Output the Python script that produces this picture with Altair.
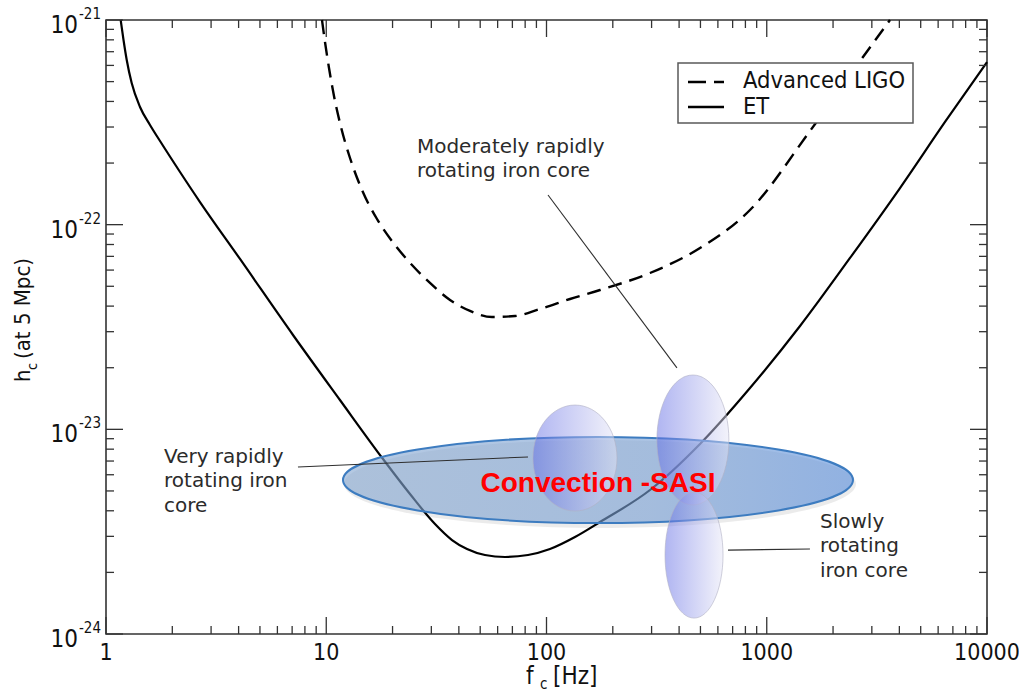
import altair as alt
import pandas as pd

# ---- detector sensitivity curves: characteristic strain at 5 Mpc vs frequency ----
et_freq = [1.166, 1.201, 1.242, 1.308, 1.427, 1.584, 1.759, 2.168, 2.672, 4.059, 7.064,
           11.54, 18.10, 24.00, 31.17, 37.24, 43.57, 52.57, 64.80, 82.41, 103.7, 134.7,
           175.0, 295.1, 497.7, 839.2, 1416.0, 2388.0, 4027.0, 6447.0, 10000.0]
et_hc = [1.0e-21, 7.986e-22, 6.375e-22, 4.922e-22, 3.758e-22, 3.069e-22, 2.563e-22,
         1.809e-22, 1.290e-22, 6.798e-23, 2.890e-23, 1.391e-23, 7.163e-24, 4.831e-24,
         3.447e-24, 2.879e-24, 2.602e-24, 2.432e-24, 2.378e-24, 2.432e-24, 2.602e-24,
         2.978e-24, 3.525e-24, 5.053e-24, 8.481e-24, 1.592e-23, 3.198e-23, 6.875e-23,
         1.510e-22, 3.175e-22, 6.232e-22]

ligo_freq = [9.566, 9.870, 10.292, 10.843, 11.666, 12.819, 14.532, 17.00, 20.516, 24.51,
             29.58, 36.47, 44.94, 56.56, 71.94, 93.43, 127.9, 175.0, 295.1, 497.7, 839.2,
             1572.0, 2735.0, 3627.0]
ligo_hc = [1.0e-21, 7.809e-22, 5.826e-22, 4.252e-22, 3.000e-22, 2.117e-22, 1.477e-22,
           1.066e-22, 7.956e-23, 6.353e-23, 5.188e-23, 4.285e-23, 3.787e-23, 3.538e-23,
           3.578e-23, 3.873e-23, 4.333e-23, 4.795e-23, 5.806e-23, 7.692e-23, 1.179e-22,
           2.869e-22, 6.596e-22, 1.0e-21]

# ---- axis ticks ----
major_f = [1, 10, 100, 1000, 10000]
major_f_labels = ["1", "10", "100", "1000", "10000"]
minor_f = [m * 10 ** d for d in range(4) for m in range(2, 10)]
major_h = [1e-24, 1e-23, 1e-22, 1e-21]
major_h_exp = ["-24", "-23", "-22", "-21"]
minor_h = [m * 10.0 ** d for d in (-24, -23, -22) for m in range(2, 10)]

# ---- emission regions (centre frequency, centre strain) ----
sasi_f, sasi_hc = 171.3, 5.655e-24
core_names = ["very rapid", "moderately rapid", "slow"]
core_f = [134.7, 462.0, 467.5]
core_hc = [7.24e-24, 8.87e-24, 2.43e-24]

# ---- annotations and leader lines ----
note_lines = [["Very rapidly", "rotating iron", "core"],
              ["Moderately rapidly", "rotating iron core"],
              ["Slowly", "rotating", "iron core"]]
note_f = [1.834, 25.8, 1745.0]
note_hc = [6.85e-24, 2.24e-22, 3.30e-24]
leader_f1 = [7.44, 101.6, 667.0]
leader_hc1 = [6.55e-24, 1.396e-22, 2.57e-24]
leader_f2 = [82.4, 391.0, 1571.0]
leader_hc2 = [7.33e-24, 1.995e-23, 2.60e-24]

W, H = 881, 614
FRAME = "#333333"
INK = "#111111"
COND = "DejaVu Sans Condensed, Liberation Sans Narrow, DejaVu Sans"
TEXT = "DejaVu Sans"

XS = alt.Scale(type="log", domain=[1, 10000], nice=False)
YS = alt.Scale(type="log", domain=[1e-24, 1e-21], nice=False)


def X(field):
    return alt.X(field, type="quantitative", scale=XS, axis=None)


def Y(field):
    return alt.Y(field, type="quantitative", scale=YS, axis=None)


dummy = alt.Data(values=[{}])


def ellipse_path(rx, ry, dx=0, dy=0):
    return (f"M{-rx + dx},{dy}A{rx},{ry},0,1,1,{rx + dx},{dy}"
            f"A{rx},{ry},0,1,1,{-rx + dx},{dy}Z")


def label(text, x, y, size, angle=0, font=COND):
    kw = dict(text=text, font=font, fontSize=size, align="left",
              baseline="alphabetic", color=INK)
    if angle:
        kw["angle"] = angle
    return alt.Chart(dummy).mark_text(**kw).encode(x=alt.value(x), y=alt.value(y))


layers = []

# curves
et_df = pd.DataFrame({"f": et_freq, "h": et_hc})
ligo_df = pd.DataFrame({"f": ligo_freq, "h": ligo_hc})
layers.append(alt.Chart(ligo_df).mark_line(color="black", strokeWidth=2.4, strokeDash=[14, 8],
                                           interpolate="monotone").encode(x=X("f"), y=Y("h")))
layers.append(alt.Chart(et_df).mark_line(color="black", strokeWidth=2.2,
                                         interpolate="monotone").encode(x=X("f"), y=Y("h")))

# inward ticks on all four sides
fmaj = pd.DataFrame({"f": major_f})
fmin = pd.DataFrame({"f": minor_f})
hmaj = pd.DataFrame({"h": major_h})
hmin = pd.DataFrame({"h": minor_h})
for df, ln in ((fmaj, 17), (fmin, 8)):
    layers.append(alt.Chart(df).mark_rule(color=FRAME, strokeWidth=1.3).encode(
        x=X("f"), y=alt.value(H), y2=alt.value(H - ln)))
    layers.append(alt.Chart(df).mark_rule(color=FRAME, strokeWidth=1.3).encode(
        x=X("f"), y=alt.value(0), y2=alt.value(ln)))
for df, ln in ((hmaj, 17), (hmin, 8)):
    layers.append(alt.Chart(df).mark_rule(color=FRAME, strokeWidth=1.3).encode(
        y=Y("h"), x=alt.value(0), x2=alt.value(ln)))
    layers.append(alt.Chart(df).mark_rule(color=FRAME, strokeWidth=1.3).encode(
        y=Y("h"), x=alt.value(W), x2=alt.value(W - ln)))

# tick labels
flab = pd.DataFrame({"f": major_f, "lab": major_f_labels})
layers.append(alt.Chart(flab).mark_text(font=COND, fontSize=23, color=INK,
                                        align="center", baseline="alphabetic").encode(
    x=X("f"), y=alt.value(640), text="lab:N"))
hlab = pd.DataFrame({"h": major_h, "exp": major_h_exp})
layers.append(alt.Chart(hlab).mark_text(text="10", font=COND, fontSize=24, color=INK,
                                        align="right", baseline="alphabetic", dy=13).encode(
    x=alt.value(-28), y=Y("h")))
layers.append(alt.Chart(hlab).mark_text(font=COND, fontSize=15, color=INK,
                                        align="left", baseline="alphabetic", dy=-1).encode(
    x=alt.value(-27), y=Y("h"), text="exp:N"))

# axis titles with subscripts
layers.append(label("f", 420, 664, 24))
layers.append(label("c", 434, 669, 15))
layers.append(label("[Hz]", 447, 664, 24))
layers.append(label("h", -76, 362, 22, angle=270))
layers.append(label("c", -69, 350, 14, angle=270))
layers.append(label("(at 5 Mpc)", -76, 339, 22, angle=270))

# legend
layers.append(alt.Chart(dummy).mark_rect(fill="white", stroke="#5a5a5a", strokeWidth=1.5).encode(
    x=alt.value(572), x2=alt.value(807), y=alt.value(43), y2=alt.value(103)))
layers.append(alt.Chart(dummy).mark_rule(color="black", strokeWidth=2.4, strokeDash=[18, 8]).encode(
    x=alt.value(582), x2=alt.value(618), y=alt.value(62)))
layers.append(alt.Chart(dummy).mark_rule(color="black", strokeWidth=2.4).encode(
    x=alt.value(582), x2=alt.value(618), y=alt.value(87)))
layers.append(label("Advanced LIGO", 637, 68, 23.5))
layers.append(label("ET", 637, 94, 23.5))

# convection / SASI region
sasi_df = pd.DataFrame({"f": [sasi_f], "h": [sasi_hc]})
layers.append(alt.Chart(sasi_df).mark_point(
    shape=ellipse_path(256, 44, 2, 4), size=4, filled=True, fill="black",
    fillOpacity=0.08, strokeWidth=0, opacity=1).encode(x=X("f"), y=Y("h")))
sasi_fill = alt.LinearGradient(
    gradient="linear", x1=0, x2=1, y1=0, y2=0,
    stops=[alt.GradientStop(offset=0, color="#86a7d0"),
           alt.GradientStop(offset=0.6, color="#79a0d4"),
           alt.GradientStop(offset=1, color="#5a8edb")])
layers.append(alt.Chart(sasi_df).mark_point(
    shape=ellipse_path(255, 43), size=4, filled=True, fill=sasi_fill, fillOpacity=0.62,
    stroke="#3d7cc0", strokeWidth=2, strokeOpacity=1, opacity=1).encode(x=X("f"), y=Y("h")))

# rotating-core regions
core_fill = alt.LinearGradient(
    gradient="linear", x1=0, x2=1, y1=0, y2=0,
    stops=[alt.GradientStop(offset=0, color="#626ce4"),
           alt.GradientStop(offset=1, color="#e6e6f6")])
core_axes = [(42, 53), (36, 65), (29, 63)]
for name, cf, ch, (rx, ry) in zip(core_names, core_f, core_hc, core_axes):
    cdf = pd.DataFrame({"f": [cf], "h": [ch], "core": [name]})
    layers.append(alt.Chart(cdf).mark_point(
        shape=ellipse_path(rx, ry), size=4, filled=True, fill=core_fill, fillOpacity=0.5,
        stroke="#b0b0c4", strokeWidth=1, strokeOpacity=0.6, opacity=1).encode(
        x=X("f"), y=Y("h")))

# leader lines
lead_df = pd.DataFrame({"f1": leader_f1, "h1": leader_hc1, "f2": leader_f2, "h2": leader_hc2})
layers.append(alt.Chart(lead_df).mark_rule(color="#2e2e2e", strokeWidth=1.1).encode(
    x=X("f1"), y=Y("h1"), x2=alt.X2("f2"), y2=alt.Y2("h2")))

# annotation text
for lines, nf, nh in zip(note_lines, note_f, note_hc):
    ndf = pd.DataFrame({"f": [nf], "h": [nh]})
    layers.append(alt.Chart(ndf).mark_text(
        text=lines, font=TEXT, fontSize=20, lineHeight=24.5, align="left",
        baseline="alphabetic", color="#2b2b2b").encode(x=X("f"), y=Y("h")))

layers.append(alt.Chart(sasi_df).mark_text(
    text="Convection -SASI", font="Liberation Sans", fontWeight="bold", fontSize=28,
    color="#ff0000", align="center", baseline="alphabetic", dy=12).encode(x=X("f"), y=Y("h")))

chart = alt.layer(*layers).properties(
    width=W, height=H,
    padding={"left": 106, "top": 20, "right": 32, "bottom": 60},
    autosize=alt.AutoSizeParams(type="none"),
    background="white",
).configure_view(stroke=FRAME, strokeWidth=1.6)

chart.save("out.html", embed_options={"renderer": "svg", "actions": False})
